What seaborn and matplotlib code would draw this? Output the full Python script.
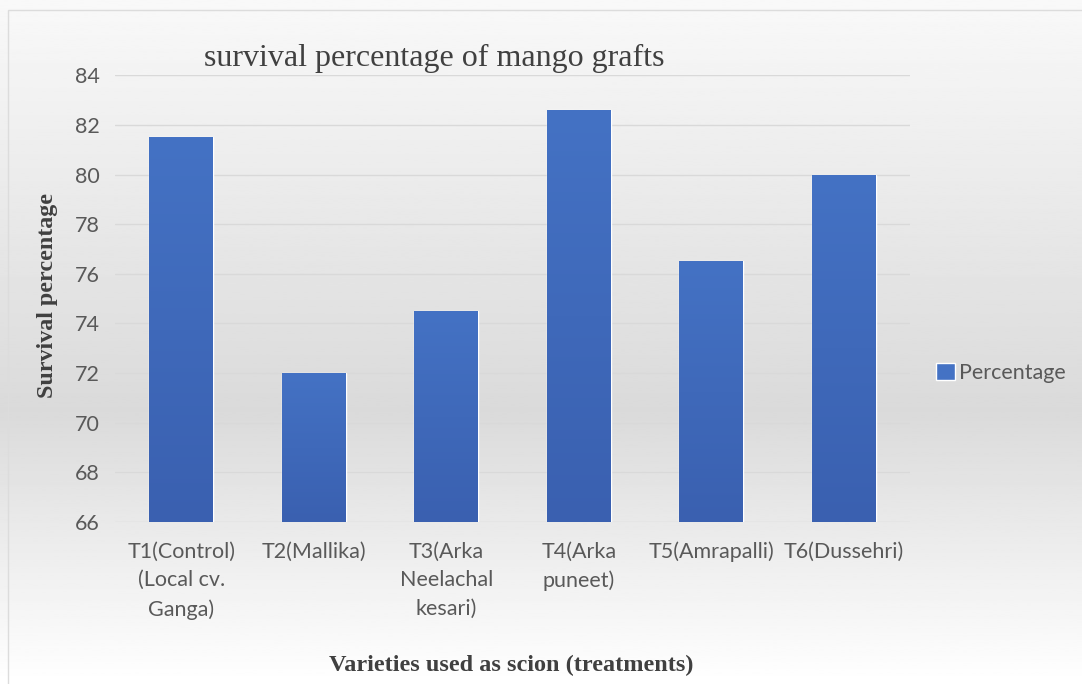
import numpy as np
import pandas as pd
import matplotlib
matplotlib.use("Agg")
import matplotlib.pyplot as plt
import seaborn as sns
from matplotlib.colors import LinearSegmentedColormap

categories = ["T1(Control)\n(Local cv.\nGanga)", "T2(Mallika)", "T3(Arka\nNeelachal\nkesari)",
              "T4(Arka\npuneet)", "T5(Amrapalli)", "T6(Dussehri)"]
values = [81.5, 72.0, 74.5, 82.6, 76.5, 80.0]
yticks = [66, 68, 70, 72, 74, 76, 78, 80, 82, 84]

sns.set_theme(style="white")
plt.rcParams['font.family'] = ['Lato', 'DejaVu Sans']

fig = plt.figure(figsize=(10.82, 6.84), dpi=100)

# background gradient
bg = fig.add_axes([0, 0, 1, 1], zorder=-10)
bg.axis("off")
ys = np.linspace(0, 1, 300)
top_c, mid_c, bot_c = 0.975, 0.855, 1.0
vals = np.where(ys > 0.40, top_c + (mid_c - top_c) * (1 - ys) / 0.60, bot_c + (mid_c - bot_c) * ys / 0.40)
bg.imshow(vals[:, None], cmap="gray", vmin=0, vmax=1, aspect="auto", origin="lower", extent=[0, 1, 0, 1])
bg.set_xlim(0, 1); bg.set_ylim(0, 1)
bg.add_patch(plt.Rectangle((0.0075, -0.01), 1.1, 0.995, fill=False, edgecolor="#dcdcdc", lw=1.0))

ax = fig.add_axes([0.1063, 0.2368, 0.7347, 0.6532])
ax.patch.set_alpha(0)
df = pd.DataFrame({"cat": categories, "val": values})
sns.barplot(data=df, x="cat", y="val", color="#4472C4", width=0.48, ax=ax, saturation=1, label="Percentage")

cmap = LinearSegmentedColormap.from_list("bar", ["#3A60B0", "#4472C4"])
grad = np.linspace(0, 1, 256)[:, None]
for p in ax.patches:
    x0, y0 = p.get_x(), p.get_y()
    w, h = p.get_width(), p.get_height()
    im = ax.imshow(grad, cmap=cmap, aspect="auto", origin="lower",
                   extent=[x0, x0 + w, 66, y0 + h], zorder=p.get_zorder() + 0.1)
    im.set_clip_path(p)

ax.set_xlim(-0.5, 5.5)
ax.set_ylim(66, 84)
ax.set_yticks(yticks)
ax.yaxis.grid(True, color="#d9d9d9", lw=1.0)
ax.set_axisbelow(True)
for s in ax.spines.values():
    s.set_visible(False)
ax.tick_params(axis="both", length=0, labelsize=15.5, labelcolor="#595959")
ax.tick_params(axis="y", pad=11)
ax.tick_params(axis="x", pad=14)
for lbl in ax.get_xticklabels():
    lbl.set_linespacing(1.55)
    lbl.set_verticalalignment("top")

ax.set_ylabel("Survival percentage", family=["Liberation Serif"], fontsize=17.3, fontweight="bold",
              color="#404040")
ax.yaxis.set_label_coords(-0.072, 0.508)
ax.set_xlabel("Varieties used as scion (treatments)", family=["Liberation Serif"], fontsize=17.5,
              fontweight="bold", color="#404040")
ax.xaxis.set_label_coords(0.498, -0.298)
fig.text(0.401, 0.915, "survival percentage of mango grafts", family=["Liberation Serif"],
         fontsize=23, color="#404040", ha="center", va="center")

leg = ax.legend(loc="center left", bbox_to_anchor=(1.009, 0.334), frameon=False, fontsize=15.5,
                handlelength=0.85, handleheight=0.85, handletextpad=0.2, labelcolor="#595959")

fig.savefig("out.png", dpi=100)
